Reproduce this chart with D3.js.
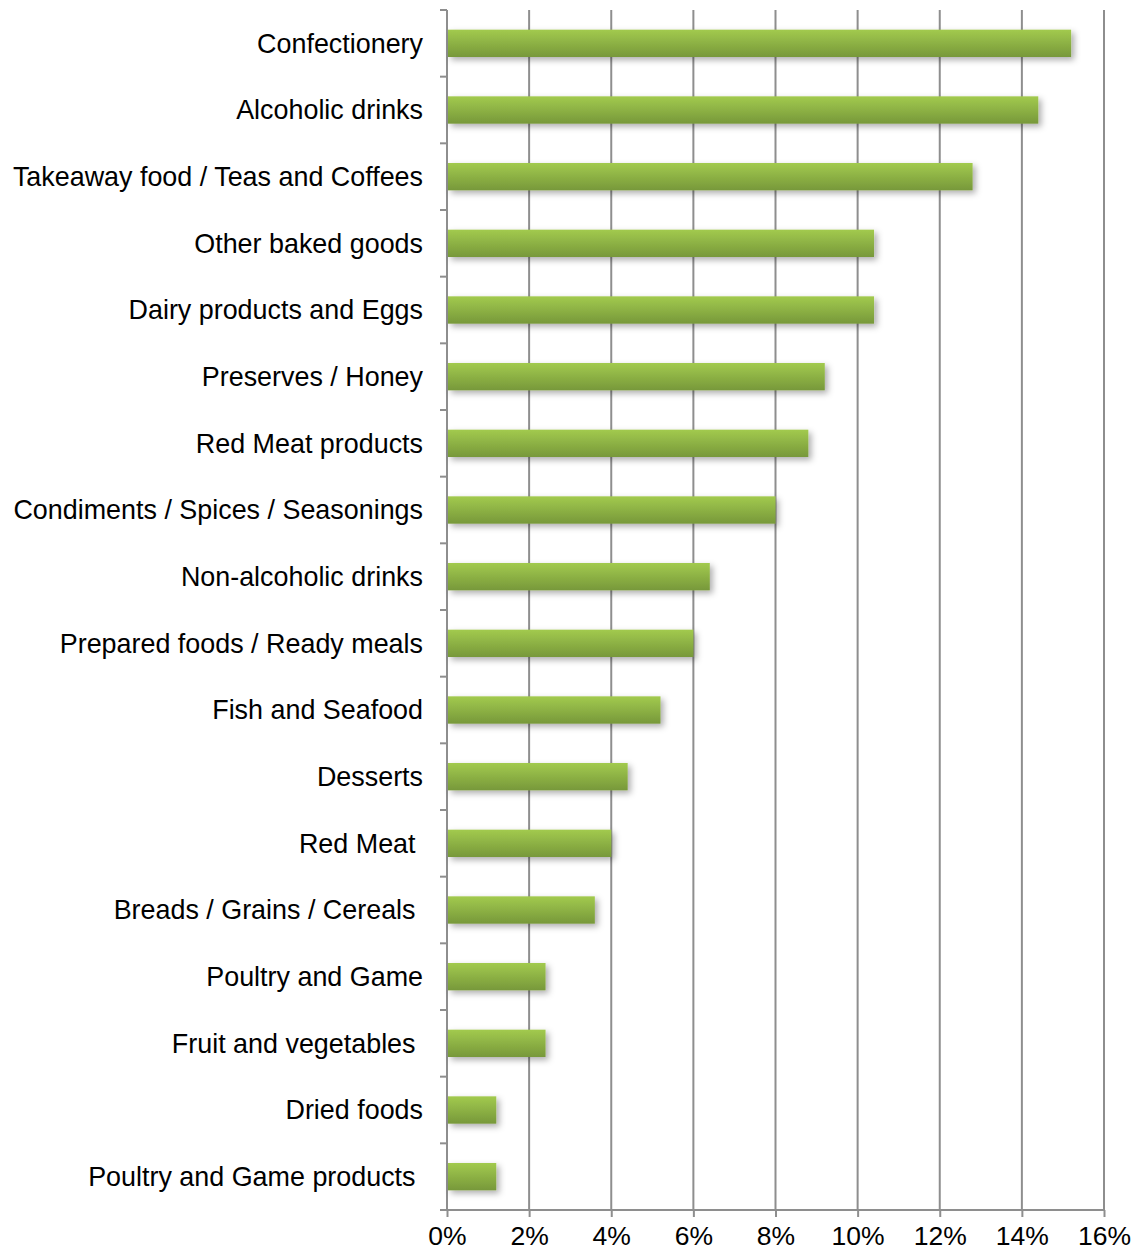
<!DOCTYPE html>
<html>
<head>
<meta charset="utf-8">
<script src="https://cdn.jsdelivr.net/npm/d3@7"></script>
<style>
  html, body { margin: 0; padding: 0; background: #fff; }
  svg { display: block; }
  text { font-family: "Liberation Sans", Arial, sans-serif; fill: #000; }
</style>
</head>
<body>
<svg id="chart" width="1138" height="1257"></svg>
<script>
// Categories, top to bottom (trailing spaces are part of some labels)
const categories = [
  "Confectionery",
  "Alcoholic drinks",
  "Takeaway food / Teas and Coffees",
  "Other baked goods",
  "Dairy products and Eggs",
  "Preserves / Honey",
  "Red Meat products",
  "Condiments / Spices / Seasonings",
  "Non-alcoholic drinks",
  "Prepared foods / Ready meals",
  "Fish and Seafood",
  "Desserts",
  "Red Meat ",
  "Breads / Grains / Cereals ",
  "Poultry and Game",
  "Fruit and vegetables ",
  "Dried foods",
  "Poultry and Game products "
];

// Share of products, in percent
const values = [15.2, 14.4, 12.8, 10.4, 10.4, 9.2, 8.8, 8.0, 6.4, 6.0, 5.2, 4.4, 4.0, 3.6, 2.4, 2.4, 1.2, 1.2];

// Value axis ticks
const xTicks = [0, 2, 4, 6, 8, 10, 12, 14, 16];

const svg = d3.select("#chart");
const plotLeft = 447, plotRight = 1104, plotTop = 10, plotBottom = 1210;
const gridColor = "#8e8e8e";

const x = d3.scaleLinear().domain([0, 16]).range([plotLeft, plotRight]);
const y = d3.scaleBand().domain(categories).range([plotTop, plotBottom])
  .paddingInner(0.59).paddingOuter(0.295);

const defs = svg.append("defs");
const grad = defs.append("linearGradient")
  .attr("id", "barFill").attr("x1", 0).attr("y1", 0).attr("x2", 0).attr("y2", 1);
grad.append("stop").attr("offset", "0%").attr("stop-color", "#a2ca4e");
grad.append("stop").attr("offset", "100%").attr("stop-color", "#77983a");

const shadow = defs.append("filter").attr("id", "barShadow")
  .attr("x", "-10%").attr("y", "-50%").attr("width", "130%").attr("height", "220%");
shadow.append("feDropShadow")
  .attr("dx", 3).attr("dy", 3).attr("stdDeviation", 3)
  .attr("flood-color", "#000").attr("flood-opacity", 0.32);

// Vertical gridlines
svg.append("g")
  .selectAll("line")
  .data(xTicks.filter(d => d > 0))
  .join("line")
  .attr("x1", d => x(d)).attr("x2", d => x(d))
  .attr("y1", plotTop).attr("y2", plotBottom)
  .attr("stroke", gridColor).attr("stroke-width", 2);

// Bottom axis
const xAxis = svg.append("g")
  .attr("transform", `translate(0,${plotBottom})`)
  .call(d3.axisBottom(x).tickValues(xTicks).tickFormat(d => d + "%")
    .tickSize(7).tickSizeOuter(0).tickPadding(9));
xAxis.select(".domain").attr("stroke", gridColor).attr("stroke-width", 2)
  .attr("d", `M${plotLeft - 7},0H${plotRight}`);
xAxis.selectAll(".tick line").attr("stroke", gridColor).attr("stroke-width", 2);
xAxis.selectAll(".tick text")
  .style("font-family", '"Liberation Sans", Arial, sans-serif')
  .style("font-size", "26.5px").attr("fill", "#000");

// Left axis with ticks between categories
const boundaries = d3.range(categories.length + 1).map(i =>
  i === categories.length ? plotBottom : y(categories[i]) - y.step() * y.paddingInner() / 2);
svg.append("g").selectAll("line")
  .data(boundaries)
  .join("line")
  .attr("x1", plotLeft - 7).attr("x2", plotLeft)
  .attr("y1", d => d).attr("y2", d => d)
  .attr("stroke", gridColor).attr("stroke-width", 2);
svg.append("line")
  .attr("x1", plotLeft).attr("x2", plotLeft).attr("y1", plotTop).attr("y2", plotBottom)
  .attr("stroke", gridColor).attr("stroke-width", 2);

// Bars
svg.append("g")
  .selectAll("rect")
  .data(categories)
  .join("rect")
  .attr("x", plotLeft + 1)
  .attr("y", d => y(d))
  .attr("width", (d, i) => x(values[i]) - plotLeft - 1)
  .attr("height", y.bandwidth())
  .attr("fill", "url(#barFill)")
  .attr("filter", "url(#barShadow)");

// Category labels
svg.append("g")
  .selectAll("text")
  .data(categories)
  .join("text")
  .attr("x", plotLeft - 24)
  .attr("y", d => y(d) + y.bandwidth() / 2)
  .attr("dy", "0.35em")
  .attr("text-anchor", "end")
  .style("white-space", "pre")
  .style("font-size", "26.9px")
  .text(d => d);
</script>
</body>
</html>
